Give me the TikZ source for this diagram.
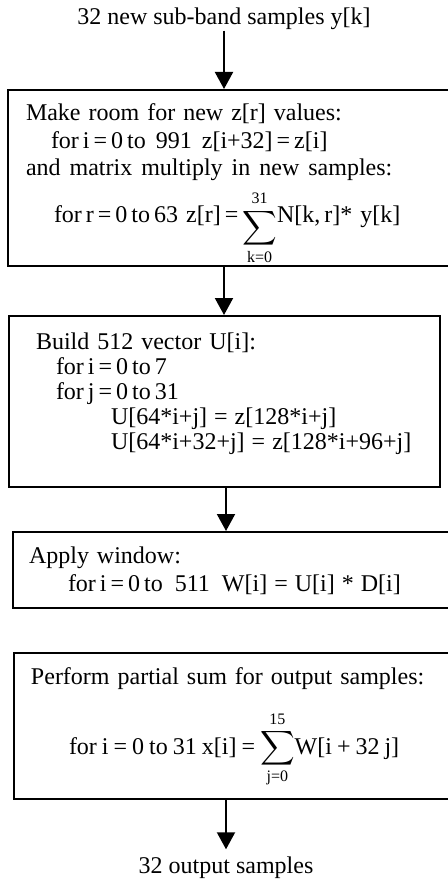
\documentclass[tikz,border=0pt]{standalone}
\usepackage{fontspec}
\setmainfont{Liberation Serif}
\usepackage{amsmath}
\usetikzlibrary{arrows.meta}
\newcommand{\wsp}[1]{\spaceskip=#1\relax}
\newcommand{\gap}[1][5pt]{\nobreak\hspace{#1}}

\begin{document}
\begin{tikzpicture}[
      x=0.5pt, y=-0.5pt,
      txt/.style={font=\fontsize{12}{14}\selectfont},
      stage/.style={txt, draw, line width=1pt,
                    anchor=north west, align=left,
                    inner ysep=0pt, inner xsep=8.5pt},
      arr/.style={line width=1pt,
                  -{Triangle[width=9pt, length=8.5pt]}},
  ]
  \useasboundingbox (0, 0) rectangle (447, 882);
  \node[txt, anchor=base, inner sep=0pt] (title)
      at (224, 25) {32 new sub-band samples y[k]};
  \node[stage, inner xsep=9pt, text width=204.5pt,
        text height=15.5pt, text depth=72.5pt] (make)
      at (7, 89)
      {Make room for new z[r] values:\\
       \hspace*{12.5pt}{\wsp{2pt}for i = 0 to\gap 991\gap
       z[i+32] = z[i]}\\[-0.5pt]
       {\wsp{4.5pt}and matrix multiply in new samples:}\\[9.5pt]
       \hspace*{14pt}{\wsp{2pt}for r = 0 to 63}\gap[4pt]%
       {\wsp{2pt}z[r] =}\gap[2pt]%
       \raisebox{-5.5pt}[0pt][0pt]{$\displaystyle
       \sum_{\text{k=0}}^{\text{31}}$}N[k,\,r]*\gap[4pt]y[k]};
  \node[stage, inner xsep=13.5pt, text width=188.5pt,
        font=\fontsize{12}{12.5}\selectfont,
        text height=16.5pt, text depth=69pt] (build)
      at (8, 315)
      {Build 512 vector U[i]:\\
       \hspace*{10pt}{\wsp{2pt}for i = 0 to 7}\\
       \hspace*{10pt}{\wsp{2pt}for j = 0 to 31}\\
       \hspace*{37.5pt}U[64*i+j]\gap[3.5pt]=\gap[3.5pt]%
       z[128*i+j]\\
       \hspace*{37.5pt}U[64*i+32+j]\gap[3.5pt]=\gap[3.5pt]%
       z[128*i+96+j]};
  \node[stage, inner xsep=8pt, text width=204pt,
        text height=15.5pt, text depth=22.5pt] (window)
      at (12, 531)
      {Apply window:\\
       \hspace*{19.5pt}{\wsp{2pt}for i = 0 to}\gap[6pt]511%
       \gap[6pt]{\wsp{3.5pt}W[i] = U[i] * D[i]}};
  \node[stage, text width=202.5pt,
        text height=15.5pt, text depth=57.5pt] (psum)
      at (13, 652)
      {Perform partial sum for output samples:\\[21pt]
       \hspace*{19pt}{\wsp{2.5pt}for i = 0 to 31 x[i] =
       $\smash{\displaystyle
       \sum_{\text{j=0}}^{\text{15}}}$W[i + 32 j]}};
  \node[txt, anchor=base] (out)
      at (226, 873) {32 output samples};
  \draw[arr] (title.south) -- (title.south |- make.north);
  \draw[arr] (make.south -| title) -- (build.north -| title);
  \draw[arr] (build.south -| out) -- (window.north -| out);
  \draw[arr] (psum.south -| out) -- (out.north);
\end{tikzpicture}
\end{document}
